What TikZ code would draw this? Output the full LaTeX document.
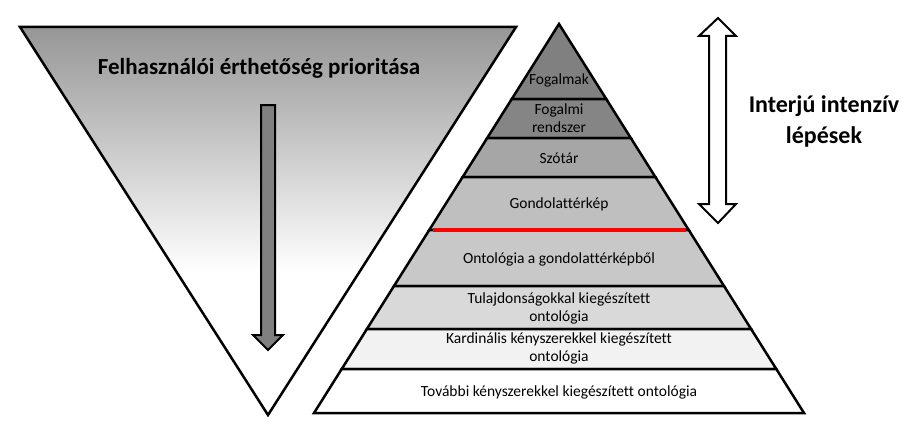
\documentclass[tikz,border=0pt]{standalone}
\usepackage{fontspec}
\setmainfont{Carlito}[Ligatures=CommonOff]
\usetikzlibrary{positioning}
\definecolor{bandA}{RGB}{128,128,128}
\definecolor{bandB}{RGB}{133,133,133}
\definecolor{bandC}{RGB}{166,166,166}
\definecolor{bandD}{RGB}{191,191,191}
\definecolor{bandE}{RGB}{200,200,200}
\definecolor{bandF}{RGB}{217,217,217}
\definecolor{bandG}{RGB}{242,242,242}
\definecolor{bandH}{RGB}{255,255,255}
\definecolor{funneltop}{RGB}{150,150,150}
\tikzset{bandtext/.style={font=\fontsize{15.5}{18}\selectfont,align=center,inner sep=0},
    headtext/.style={font=\fontsize{23}{31}\selectfont\bfseries,align=center,inner sep=0},
    sidetext/.style={font=\fontsize{24}{31}\selectfont\bfseries,align=center,inner sep=0},
    outline/.style={draw=black,line width=2.5pt,line join=miter},
    blockarrow/.style={draw=black,line width=2pt,line join=miter}
}
\begin{document}
\begin{tikzpicture}[x=1pt,y=-1pt]
\useasboundingbox (0,0) rectangle (920,436);

% funnel

\begin{scope}
\clip (20,27) -- (516,27) -- (268,415) -- cycle;
\shade [top color=funneltop,bottom color=white] (20,27) rectangle (516,272);
\end{scope}
\draw [outline] (20,27) -- (516,27) -- (268,415) -- cycle;

\node (prioritas) at (259,68) [headtext] {Felhasználói érthetőség prioritása};

\draw [blockarrow,fill=bandA] (261,105) -- (275,105) -- (275,335) -- (283,335)
    -- (268,350) -- (253,335) -- (261,335) -- cycle;

% pyramid

\foreach \ya/\yb/\col in {24/99/bandA,99/138/bandB,138/177/bandC,177/230/bandD,
    230/286/bandE,286/329/bandF,329/369/bandG,369/413/bandH}
{
    \pgfmathsetmacro\xa{0.6298*(\ya-24)}
    \pgfmathsetmacro\xb{0.6298*(\yb-24)}
    \filldraw [outline,fill=\col] (559-\xa,\ya) -- (559+\xa,\ya) -- (559+\xb,\yb)
        -- (559-\xb,\yb) -- cycle;
}

\draw [red,line width=4pt] (433,230) -- (686,230);

\node (fogalmak) at (559,80) [bandtext] {Fogalmak};
\node (rendszer) at (559,118) [bandtext] {Fogalmi\\rendszer};
\node (szotar) at (559,158) [bandtext] {Szótár};
\node (terkep) at (559,204) [bandtext] {Gondolattérkép};
\node (ontologia) at (559,259) [bandtext] {Ontológia a gondolattérképből};
\node (tulajdonsag) at (559,308) [bandtext] {Tulajdonságokkal kiegészített\\ontológia};
\node (kardinalis) at (559,348) [bandtext] {Kardinális kényszerekkel kiegészített\\ontológia};
\node (tovabbi) at (559,392) [bandtext] {További kényszerekkel kiegészített ontológia};

% interview steps

\draw [blockarrow,fill=white] (718,18) -- (736,36) -- (726,36) -- (726,204) -- (736,204)
    -- (718,223) -- (699,204) -- (709,204) -- (709,36) -- (699,36) -- cycle;

\node (interju) at (824,121) [sidetext] {Interjú intenzív\\lépések};

\end{tikzpicture}
\end{document}
